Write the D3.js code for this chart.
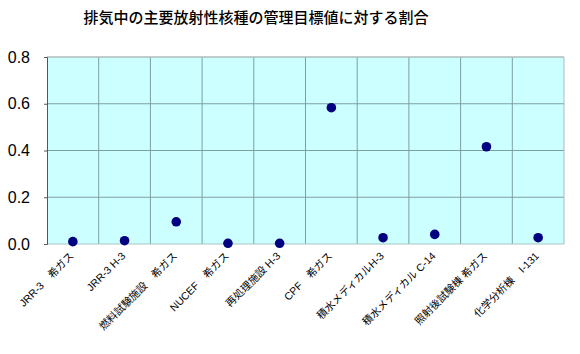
<!DOCTYPE html>
<html><head><meta charset="utf-8">
<script src="https://cdn.jsdelivr.net/npm/d3@7"></script>
<style>body{margin:0;background:#fff;}svg{display:block;}</style>
</head><body>
<script>
const categories = ["JRR-3　希ガス","JRR-3 H-3","燃料試験施設　希ガス","NUCEF　希ガス","再処理施設 H-3","CPF　希ガス","積水メディカルH-3","積水メディカル C-14","照射後試験棟 希ガス","化学分析棟　I-131"];
const values = [0.010, 0.014, 0.095, 0.003, 0.003, 0.583, 0.027, 0.041, 0.416, 0.027];
const yTicks = [0, 0.2, 0.4, 0.6, 0.8];
const title = "排気中の主要放射性核種の管理目標値に対する割合";

const W = 580, H = 354;
const m = {left: 47, right: 16, top: 57, bottom: 110};
const svg = d3.select("body").append("svg").attr("width", W).attr("height", H);

const x = d3.scaleBand().domain(categories).range([m.left, W - m.right]);
const y = d3.scaleLinear().domain([0, 0.8]).range([H - m.bottom, m.top]);

svg.append("text").attr("x", 256).attr("y", 23).attr("text-anchor", "middle")
  .attr("font-family", "'Noto Sans CJK JP', sans-serif").attr("font-size", 15).attr("font-weight", 500).attr("fill", "#000")
  .text(title);

svg.append("rect").attr("x", m.left).attr("y", m.top)
  .attr("width", W - m.right - m.left).attr("height", H - m.bottom - m.top)
  .attr("fill", "#ccffff");

svg.append("g").selectAll("line").data(yTicks.slice(1)).join("line")
  .attr("x1", m.left).attr("x2", W - m.right)
  .attr("y1", d => y(d)).attr("y2", d => y(d))
  .attr("stroke", "#7f9f9f").attr("stroke-width", 1);
svg.append("g").selectAll("line").data(categories.slice(1)).join("line")
  .attr("x1", d => x(d)).attr("x2", d => x(d))
  .attr("y1", m.top).attr("y2", H - m.bottom)
  .attr("stroke", "#7f9f9f").attr("stroke-width", 1);

svg.append("line").attr("x1", m.left).attr("x2", W - m.right).attr("y1", m.top).attr("y2", m.top).attr("stroke", "#c8c8c8");
svg.append("line").attr("x1", W - m.right).attr("x2", W - m.right).attr("y1", m.top).attr("y2", H - m.bottom).attr("stroke", "#b0b8b8");
svg.append("line").attr("x1", m.left).attr("x2", W - m.right).attr("y1", H - m.bottom).attr("y2", H - m.bottom).attr("stroke", "#a8c4c4");

const yAxis = d3.axisLeft(y).tickValues(yTicks).tickFormat(d3.format(".1f")).tickSize(3).tickPadding(14);
const gy = svg.append("g").attr("transform", `translate(${m.left},0)`).call(yAxis);
gy.select(".domain").attr("stroke", "#555");
gy.selectAll(".tick line").attr("stroke", "#555");
gy.selectAll("text").attr("font-family", "Arial, 'Liberation Sans', sans-serif").attr("font-size", 16).attr("fill", "#000");

svg.append("g").selectAll("text").data(categories).join("text")
  .attr("transform", d => `translate(${x(d) + x.bandwidth()/2 - 1},${H - m.bottom + 10}) rotate(-45)`)
  .attr("text-anchor", "end").attr("dy", "0.35em")
  .attr("font-family", "Arial, 'Noto Sans CJK JP', sans-serif").attr("font-size", 10.5).attr("fill", "#000")
  .text(d => d);

svg.append("g").selectAll("circle").data(values).join("circle")
  .attr("cx", (d, i) => x(categories[i]) + x.bandwidth()/2)
  .attr("cy", d => y(d)).attr("r", 4.8).attr("fill", "#000080");
</script>
</body></html>
